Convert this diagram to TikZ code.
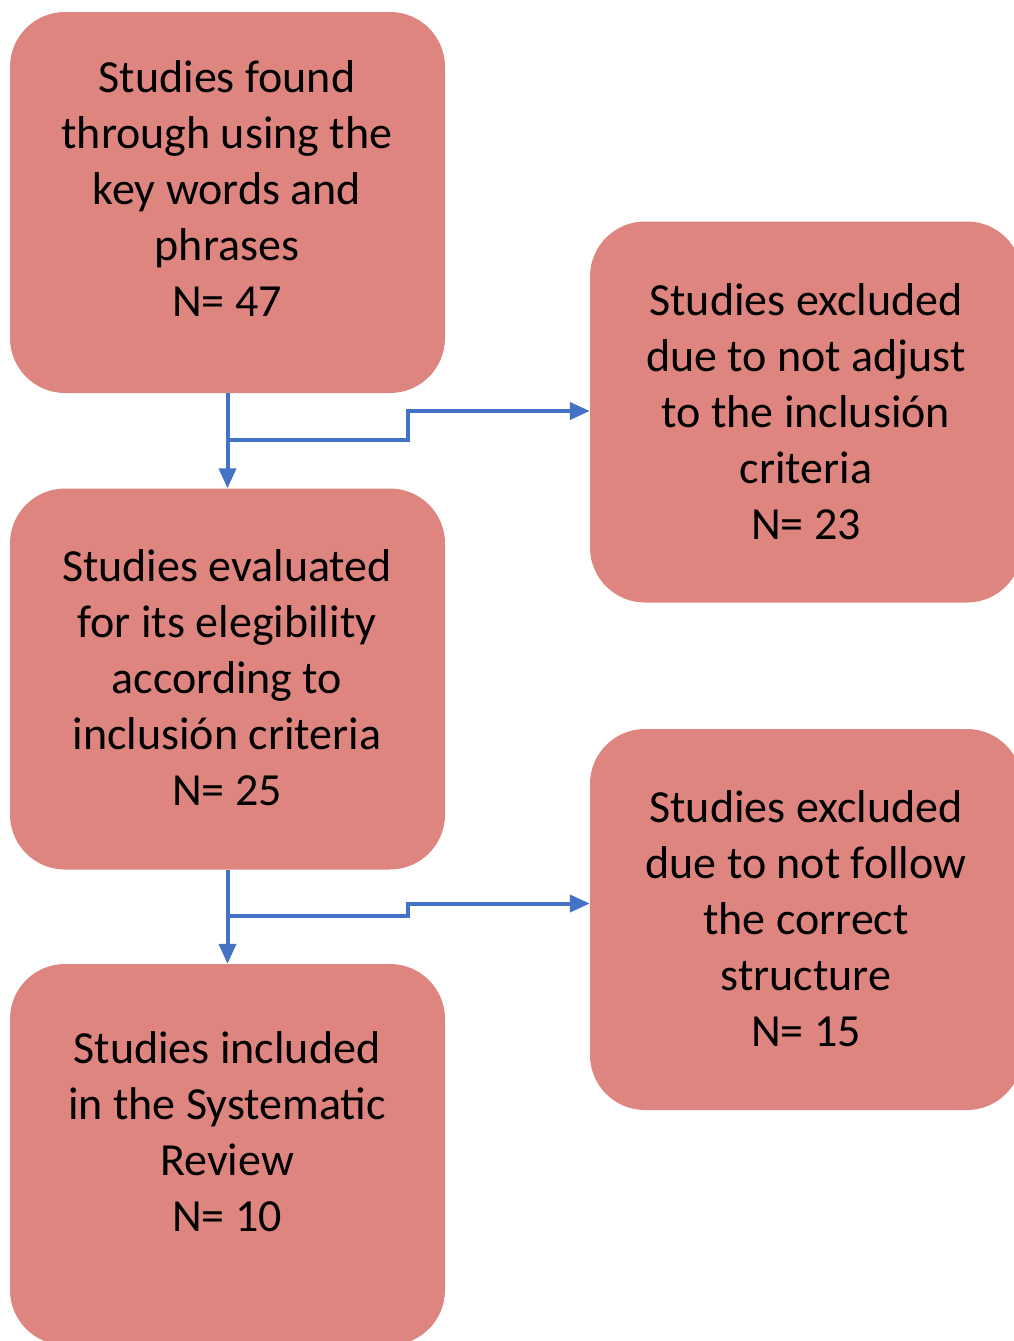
\documentclass[tikz,border=0pt]{standalone}
\usepackage{fontspec}
\setmainfont{Carlito}
\usetikzlibrary{arrows.meta,calc}
\definecolor{boxfill}{HTML}{DE8580}
\definecolor{arrowblue}{HTML}{4472C4}
\begin{document}
\begin{tikzpicture}[x=1pt,y=-1pt,
  flowbox/.style={rectangle, rounded corners=55pt, fill=boxfill, draw=none,
    minimum width=435pt, minimum height=381pt, inner sep=0pt},
  sidebox/.style={flowbox, minimum width=432pt},
  boxtext/.style={align=center, text=black, inner sep=0pt,
    font=\fontsize{46}{56}\selectfont},
  flowarrow/.style={draw=arrowblue, line width=4pt,
    -{Triangle[length=20pt,width=17pt]}}]
\useasboundingbox (0,0) rectangle (1014,1341);
\clip (0,0) rectangle (1014,1341);

\node[flowbox] (b1) at (227.5,202.5) {};
\node[boxtext] (t1) at (227,189) {Studies found\\through using the\\key words and\\phrases\\N= 47};

\node[sidebox] (r1) at (806,412) {};
\node[boxtext] (tr1) at (806,412) {Studies excluded\\due to not adjust\\to the inclusión\\criteria\\N= 23};

\node[flowbox] (b2) at (227.5,679) {};
\node[boxtext] (t2) at (227,678) {Studies evaluated\\for its elegibility\\according to\\inclusión criteria\\N= 25};

\node[sidebox] (r2) at (806,919.5) {};
\node[boxtext] (tr2) at (806,919) {Studies excluded\\due to not follow\\the correct\\structure\\N= 15};

\node[flowbox] (b3) at (227.5,1154.5) {};
\node[boxtext] (t3) at (227,1132) {Studies included\\in the Systematic\\Review\\N= 10};

\coordinate (j1) at (228,440);
\coordinate (j2) at (228,916);

\draw[flowarrow] (b1.south) -- (b2.north);
\draw[flowarrow] (j1) -- ++(180,0) |- ([yshift=1pt]r1.west);
\draw[flowarrow] (b2.south) -- (b3.north);
\draw[flowarrow] (j2) -- ++(180,0) |- ([yshift=16pt]r2.west);
\end{tikzpicture}
\end{document}
